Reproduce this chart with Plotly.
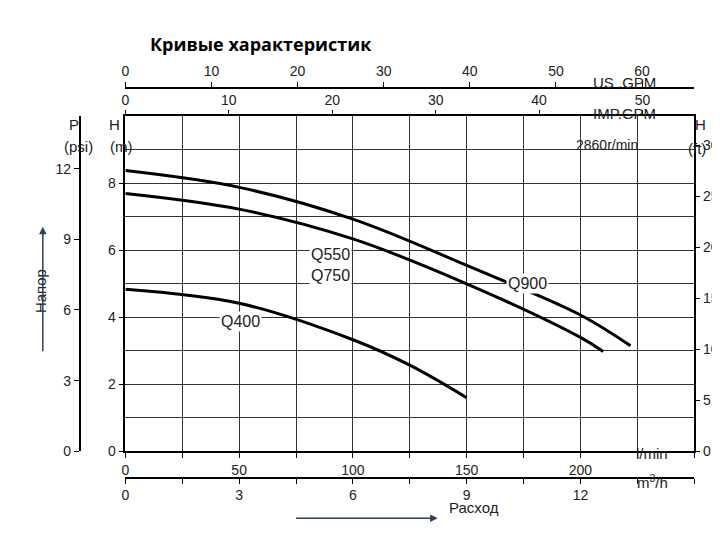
import plotly.graph_objects as go

# flow in l/min, head in m
flow_q900 = [0, 50, 100, 150, 200, 222]
head_q900 = [8.38, 7.88, 6.93, 5.55, 4.07, 3.15]
flow_q750 = [0, 50, 100, 150, 200, 210]
head_q750 = [7.7, 7.23, 6.34, 5.0, 3.4, 2.98]
flow_q400 = [0, 50, 100, 125, 150]
head_q400 = [4.84, 4.42, 3.33, 2.57, 1.6]

W, H = 720, 535
def px(x): return x / W
def py(y): return 1 - y / H

FONT = "Liberation Sans"
fig = go.Figure()
for fx, hy in [(flow_q900, head_q900), (flow_q750, head_q750), (flow_q400, head_q400)]:
    fig.add_trace(go.Scatter(x=fx, y=hy, mode="lines", line=dict(color="black", width=3, shape="spline"),
                             showlegend=False, hoverinfo="skip"))
# invisible traces to keep the extra axes alive
for xa, ya in [("x2", "y"), ("x3", "y"), ("x4", "y"), ("x", "y2"), ("x", "y3")]:
    fig.add_trace(go.Scatter(x=[0], y=[0], xaxis=xa, yaxis=ya, mode="markers",
                             marker=dict(opacity=0), showlegend=False, hoverinfo="skip"))

ax = dict(showline=True, linecolor="black", linewidth=1.5, ticks="outside", ticklen=5,
          tickcolor="black", zeroline=False, tickfont=dict(size=14, color="#222"))
dom_x = [px(114), px(686)]
dom_y = [py(450), py(110)]
fig.update_layout(
    width=W, height=H, margin=dict(l=0, r=0, t=0, b=0),
    plot_bgcolor="white", paper_bgcolor="white", font=dict(family=FONT, color="#222"),
    xaxis=dict(ax, domain=dom_x, range=[0, 250], tickvals=[0, 50, 100, 150, 200], mirror=True,
               showgrid=True, gridcolor="#333", gridwidth=1,
               minor=dict(dtick=25, showgrid=True, gridcolor="#333", ticks="outside", ticklen=5, tickcolor="black")),
    yaxis=dict(ax, domain=dom_y, range=[0, 10], tickvals=[0, 2, 4, 6, 8], mirror=True,
               showgrid=True, gridcolor="#333", gridwidth=1,
               minor=dict(dtick=1, showgrid=True, gridcolor="#333")),
    xaxis2=dict(ax, overlaying="x", anchor="free", position=py(477), side="bottom",
                range=[0, 15], tickvals=[0, 3, 6, 9, 12], showgrid=False,
                minor=dict(dtick=1.5, ticks="outside", ticklen=5, tickcolor="black")),
    xaxis3=dict(ax, overlaying="x", anchor="y", side="top", range=[0, 250 / 4.546],
                dtick=10, showgrid=False, showline=False),
    xaxis4=dict(ax, overlaying="x", anchor="free", position=py(81), side="top",
                range=[0, 250 / 3.785], dtick=10, showgrid=False),
    yaxis2=dict(ax, overlaying="y", anchor="free", position=px(68), side="left",
                range=[0, 14.22], dtick=3, showgrid=False),
    yaxis3=dict(ax, overlaying="y", anchor="x", side="right", range=[0, 32.81],
                dtick=5, showgrid=False, showline=False),
)

def note(x, y, text, size=15, bg=None):
    fig.add_annotation(x=px(x), y=py(y), xref="paper", yref="paper", text=text, showarrow=False,
                       font=dict(family=FONT, size=size, color="#222"), bgcolor=bg)

fig.add_annotation(x=px(250), y=py(22), xref="paper", yref="paper", text="<b>Кривые характеристик</b>",
                   showarrow=False, font=dict(family="Open Sans", size=18, color="black"))
note(650, 65, "US .GPM")
note(650, 96, "IMP.GPM")
note(662, 463, "l/min")
note(662, 492, "m<sup>3</sup>/h")
note(55, 108, "P")
note(50, 130, "(psi)")
note(96, 108, "H")
note(97, 130, "(m)")
note(700, 108, "H")
note(700, 132, "(ft)")
note(632, 129, "2860r/min", size=14)
note(320, 250, "Q550", size=16, bg="white")
note(320, 272, "Q750", size=16, bg="white")
note(540, 280, "Q900", size=16, bg="white")
note(208, 318, "Q400", size=16, bg="white")
note(465, 518, "Расход")
fig.add_annotation(x=px(18), y=py(287), xref="paper", yref="paper", text="Напор", textangle=-90,
                   showarrow=False, font=dict(family=FONT, size=15, color="#222"))
fig.add_annotation(x=px(428), y=py(518), ax=-143, ay=0, xref="paper", yref="paper",
                   text="", showarrow=True, arrowhead=2, arrowwidth=1.5)
fig.add_annotation(x=px(31), y=py(222), ax=0, ay=126, xref="paper", yref="paper",
                   text="", showarrow=True, arrowhead=2, arrowwidth=1.5)

fig.write_html("out.html")
